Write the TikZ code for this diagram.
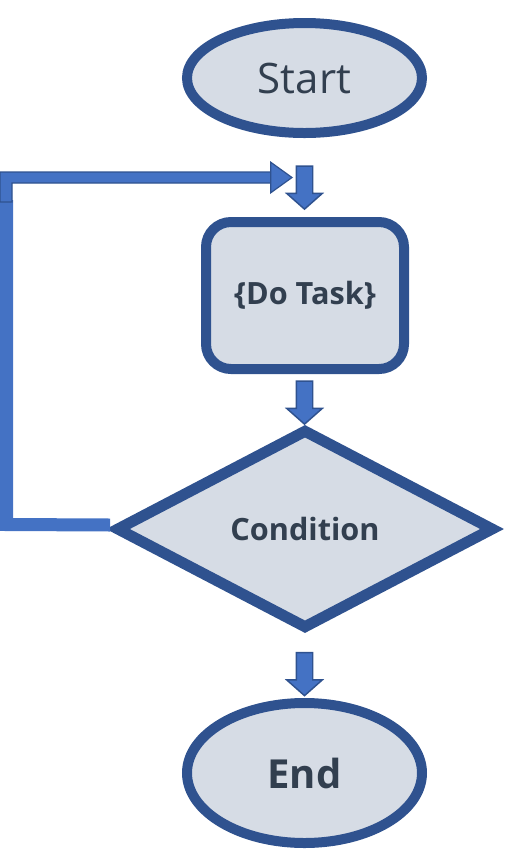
\documentclass[tikz,border=0pt]{standalone}
\usepackage{fontspec}
\setmainfont{Open Sans}
\usetikzlibrary{shapes.geometric,shapes.arrows}

\definecolor{flowFill}{HTML}{D6DCE5}
\definecolor{flowEdge}{HTML}{2F528F}
\definecolor{flowArrow}{HTML}{4472C4}
\definecolor{flowText}{HTML}{323F4F}

\begin{document}
\begin{tikzpicture}[
        x=0.75pt, y=-0.75pt,
        terminal/.style={ellipse, draw=flowEdge, line width=7.5pt, fill=flowFill, inner sep=0pt, minimum width=176.25pt, text=flowText},
        taskbox/.style={rectangle, draw=flowEdge, line width=7.5pt, rounded corners=18.75pt, fill=flowFill, minimum width=148.5pt, minimum height=110.25pt, text=flowText, font=\bfseries\fontsize{23}{27}\selectfont},
        decision/.style={diamond, draw=flowEdge, line width=8.25pt, fill=flowFill, inner sep=0pt, minimum width=284pt, minimum height=150pt, text=flowText, font=\bfseries\fontsize{23}{27}\selectfont},
        downarrow/.style={single arrow, draw=flowEdge, line width=1.1pt, fill=flowArrow, inner sep=5.625pt, minimum height=32.25pt, minimum width=25.5pt, single arrow head extend=7.125pt, single arrow tip angle=97, shape border rotate=270}
    ]
        \useasboundingbox (0,0) rectangle (505,851);
        % shapes
        \node[terminal, minimum height=82.5pt, font=\fontsize{31.5}{36}\selectfont] (start) at (304.5,78) {Start};
        \node[taskbox] (task) at (305,295.5) {\{Do Task\}};
        \node[decision] (cond) at (305,529) {Condition};
        \node[terminal, minimum height=105pt, font=\bfseries\fontsize{30}{34}\selectfont] (end) at (304.5,773) {End};
        % block arrows between the shapes
        \node[downarrow] (arrA) at (304.5,184) {};
        \node[downarrow] (arrB) at (304.5,399) {};
        \node[downarrow] (arrC) at (304.5,670.5) {};
        % loop back
        \coordinate (loopbend) at (6.5,524.5);
        \coordinate (looptop) at (6.5,200);
        \coordinate (looptip) at (292,177.5);
        \draw[flowArrow, line width=9.75pt] ([yshift=3pt]cond.west) -- (loopbend) -- (looptop);
        \filldraw[draw=flowEdge, fill=flowArrow, line width=0.9pt] ([yshift=-1.5]looptop -| 0,0) -- (0,172) -- ([xshift=-16]looptip |- 0,172) -- ([xshift=-16,yshift=-11.5]looptip) -- (looptip) -- ([xshift=-16,yshift=11.5]looptip) -- ([xshift=-16]looptip |- 0,183) -- (12,183) -- ([yshift=-1.5]looptop -| 12,0) -- cycle;
    \end{tikzpicture}
\end{document}
